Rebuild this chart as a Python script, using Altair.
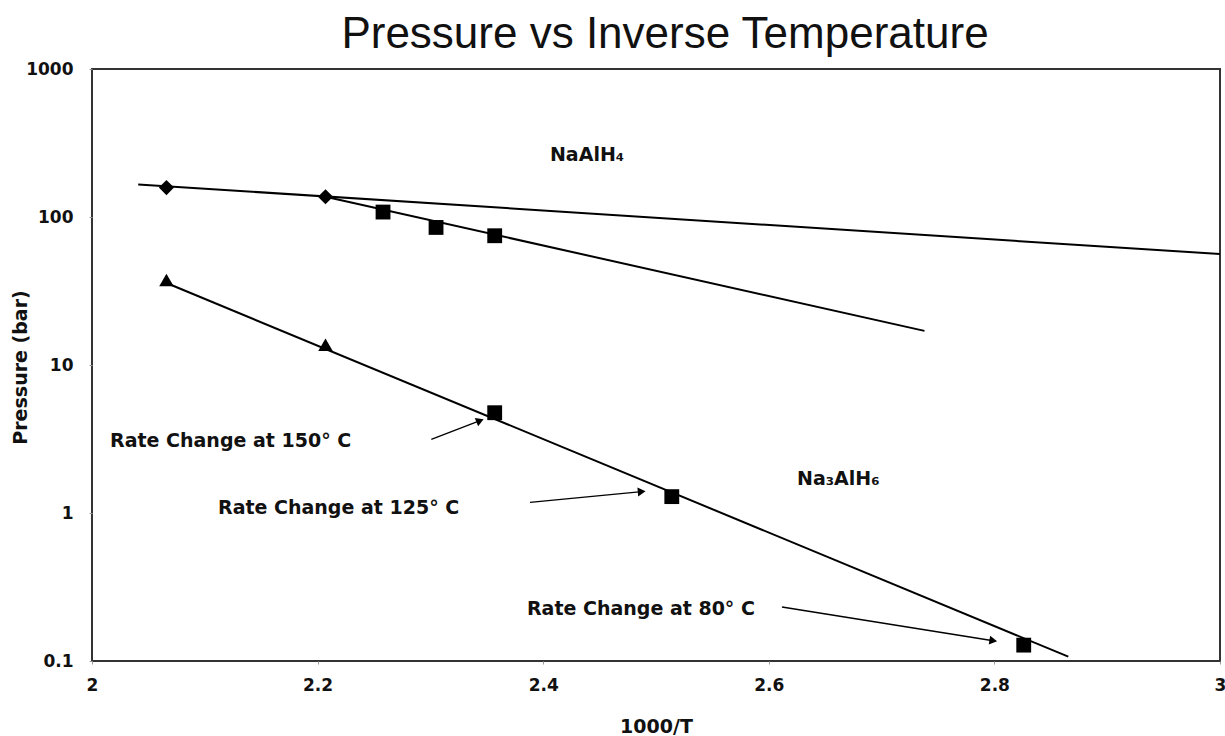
import altair as alt
import pandas as pd

# ---- data ----
diamond_x = [2.066, 2.207]
diamond_y = [158, 137]
square_x = [2.258, 2.305, 2.357, 2.357, 2.514, 2.826]
square_y = [108, 85, 74.7, 4.76, 1.29, 0.128]
triangle_x = [2.066, 2.207]
triangle_y = [37.5, 13.7]

# fitted lines (start / end)
line_id = ["a", "a", "b", "b", "c", "c"]
line_x = [2.041, 3.0, 2.207, 2.738, 2.066, 2.8655]
line_y = [166, 56.2, 137, 17.0, 35.8, 0.107]

# annotation arrows (tail -> head)
arrow_x = [2.3008, 2.3883, 2.6117]
arrow_y = [3.147, 1.181, 0.2317]
arrow_x2 = [2.3440, 2.4873, 2.799]
arrow_y2 = [4.205, 1.393, 0.137]
arrow_angle = [338, 355, 9]

# text annotations
note_text = ["Rate Change at 150° C", "Rate Change at 125° C", "Rate Change at 80° C"]
note_x = [2.016, 2.1117, 2.3856]
note_y = [3.065, 1.081, 0.2245]
phase_text = ["NaAlH₄", "Na₃AlH₆"]
phase_x = [2.406, 2.625]
phase_y = [262, 1.70]

x_ticks = [2, 2.2, 2.4, 2.6, 2.8, 3]
y_ticks = [0.1, 1, 10, 100, 1000]

TFONT = "Liberation Sans"
BFONT = "DejaVu Sans"

xs = alt.Scale(domain=[2, 3], nice=False, zero=False)
ys = alt.Scale(type="log", domain=[0.1, 1000], nice=False)

X = alt.X("x:Q", scale=xs, axis=alt.Axis(
    values=x_ticks, format="~g", title="1000/T", grid=False, domain=False,
    labelFlush=False,
    tickSize=3, tickColor="#999", labelPadding=13, labelFont=BFONT,
    labelFontSize=17, labelFontWeight="bold", labelColor="#111",
    titleFont=BFONT, titleFontSize=19, titleFontWeight="bold", titleColor="#111",
    titleY=56))
Y = alt.Y("y:Q", scale=ys, axis=alt.Axis(
    values=y_ticks, format="~g", title="Pressure (bar)", grid=False, domain=False,
    labelFlush=False,
    tickSize=3, tickColor="#999", labelPadding=16, labelFont=BFONT,
    labelFontSize=17, labelFontWeight="bold", labelColor="#111",
    titleFont=BFONT, titleFontSize=19, titleFontWeight="bold", titleColor="#111",
    titleX=-62, titleY=298))

lines_df = pd.DataFrame({"id": line_id, "x": line_x, "y": line_y})
lines = alt.Chart(lines_df).mark_line(color="black", strokeWidth=2).encode(
    x=X, y=Y, detail="id:N")

dia = alt.Chart(pd.DataFrame({"x": diamond_x, "y": diamond_y})).mark_point(
    shape="diamond", filled=True, color="black", size=230, opacity=1).encode(x=X, y=Y)
sq = alt.Chart(pd.DataFrame({"x": square_x, "y": square_y})).mark_point(
    shape="square", filled=True, color="black", size=220, opacity=1).encode(x=X, y=Y)
tri = alt.Chart(pd.DataFrame({"x": triangle_x, "y": triangle_y})).mark_point(
    shape="triangle-up", filled=True, color="black", size=210, opacity=1).encode(x=X, y=Y)

arr_df = pd.DataFrame({"x": arrow_x, "y": arrow_y, "x2": arrow_x2, "y2": arrow_y2,
                       "angle": arrow_angle})
arr_lines = alt.Chart(arr_df).mark_rule(color="black", strokeWidth=1.3).encode(
    x=X, y=Y, x2="x2:Q", y2="y2:Q")
arr_heads = alt.Chart(arr_df).mark_point(
    shape="triangle-right", filled=True, color="black", size=80, opacity=1).encode(
    x=alt.X("x2:Q", scale=xs), y=alt.Y("y2:Q", scale=ys),
    angle=alt.Angle("angle:Q", scale=None))

notes = alt.Chart(pd.DataFrame({"x": note_x, "y": note_y, "t": note_text})).mark_text(
    align="left", baseline="middle", font=BFONT, fontSize=19, fontWeight="bold",
    color="#111").encode(x=X, y=Y, text="t:N")
phases = alt.Chart(pd.DataFrame({"x": phase_x, "y": phase_y, "t": phase_text})).mark_text(
    align="left", baseline="middle", font=BFONT, fontSize=19, fontWeight="bold",
    color="#111").encode(x=X, y=Y, text="t:N")

chart = alt.layer(lines, dia, sq, tri, arr_lines, arr_heads, notes, phases).properties(
    width=1128, height=592,
    background="white",
    title=alt.TitleParams("Pressure vs Inverse Temperature", font=TFONT, fontSize=44,
                          fontWeight="normal", color="#111", anchor="middle",
                          frame="group", offset=3, dx=9),
    autosize=alt.AutoSizeParams(type="none"),
    padding={"left": 92, "top": 69, "right": 5, "bottom": 75},
).configure_view(stroke="#333", strokeWidth=2)

chart.save("out.html", embed_options={"renderer": "svg", "actions": False})
